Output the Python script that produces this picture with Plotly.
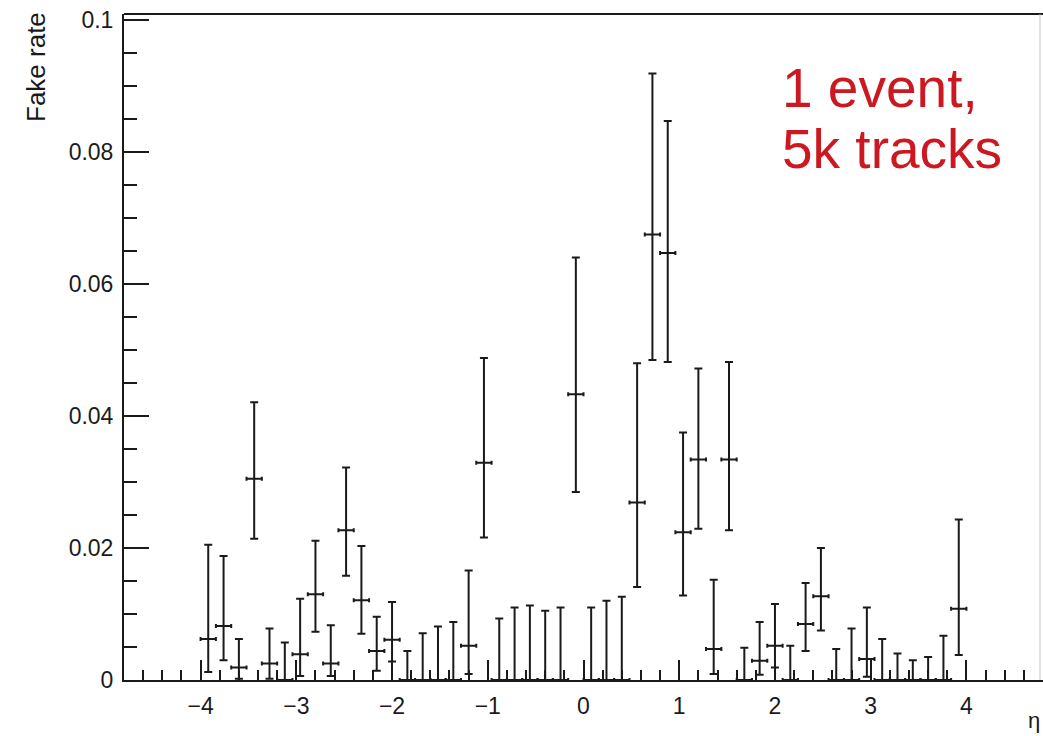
import plotly.graph_objects as go

# Fake-rate per eta bin (bin width 0.16), with asymmetric confidence interval
eta = [-3.92, -3.76, -3.60, -3.44, -3.28, -3.12, -2.96, -2.80, -2.64, -2.48,
       -2.32, -2.16, -2.00, -1.84, -1.68, -1.52, -1.36, -1.20, -1.04, -0.88,
       -0.72, -0.56, -0.40, -0.24, -0.08, 0.08, 0.24, 0.40, 0.56, 0.72,
       0.88, 1.04, 1.20, 1.36, 1.52, 1.68, 1.84, 2.00, 2.16, 2.32,
       2.48, 2.64, 2.80, 2.96, 3.12, 3.28, 3.44, 3.60, 3.76, 3.92]

fake_rate = [0.0062, 0.0082, 0.0019, 0.0305, 0.0025, 0.0, 0.0039, 0.0130, 0.0025, 0.0227,
             0.0121, 0.0044, 0.0061, 0.0, 0.0, 0.0, 0.0, 0.0052, 0.0329, 0.0,
             0.0, 0.0, 0.0, 0.0, 0.0433, 0.0, 0.0, 0.0, 0.0269, 0.0675,
             0.0647, 0.0224, 0.0334, 0.0047, 0.0334, 0.0, 0.0029, 0.0052, 0.0, 0.0085,
             0.0127, 0.0, 0.0, 0.0032, 0.0, 0.0, 0.0, 0.0, 0.0, 0.0108]

ci_high = [0.0205, 0.0188, 0.0062, 0.0421, 0.0078, 0.0057, 0.0123, 0.0211, 0.0083, 0.0322,
           0.0203, 0.0096, 0.0118, 0.0044, 0.0071, 0.0081, 0.0088, 0.0166, 0.0488, 0.0093,
           0.0110, 0.0113, 0.0105, 0.0110, 0.0640, 0.0110, 0.0120, 0.0126, 0.0480, 0.0919,
           0.0847, 0.0375, 0.0472, 0.0152, 0.0482, 0.0049, 0.0088, 0.0115, 0.0052, 0.0147,
           0.0200, 0.0047, 0.0078, 0.0110, 0.0062, 0.0040, 0.0030, 0.0035, 0.0067, 0.0243]

ci_low = [0.0012, 0.0030, 0.0002, 0.0214, 0.0002, 0.0, 0.0006, 0.0073, 0.0006, 0.0158,
          0.0070, 0.0014, 0.0028, 0.0, 0.0, 0.0, 0.0, 0.0009, 0.0216, 0.0,
          0.0, 0.0, 0.0, 0.0, 0.0285, 0.0, 0.0, 0.0, 0.0141, 0.0485,
          0.0482, 0.0128, 0.0229, 0.0009, 0.0227, 0.0, 0.0008, 0.0019, 0.0, 0.0044,
          0.0075, 0.0, 0.0, 0.0005, 0.0, 0.0, 0.0, 0.0, 0.0, 0.0038]

bin_half_width = 0.08

err_plus = [h - v for h, v in zip(ci_high, fake_rate)]
err_minus = [v - l for v, l in zip(fake_rate, ci_low)]

W, H = 1043, 736
L, R, T, B = 124, 0, 14, 56
PW, PH = W - L - R, H - T - B
FONT = "Liberation Sans, Arial, Helvetica, sans-serif"
INK = "#1a1a1a"


def px_x(px):
    return (px - L) / PW


def px_y(py):
    return 1 - (py - T) / PH


fig = go.Figure()
fig.add_trace(go.Scatter(
    x=eta, y=fake_rate, mode="markers",
    marker=dict(size=1, color="rgba(0,0,0,0)"),
    error_y=dict(type="data", symmetric=False, array=err_plus, arrayminus=err_minus,
                 color=INK, thickness=2, width=4),
    error_x=dict(type="constant", value=bin_half_width, color=INK, thickness=2, width=2),
    showlegend=False, hoverinfo="skip",
))

fig.update_layout(
    width=W, height=H,
    margin=dict(l=L, r=R, t=T, b=B),
    paper_bgcolor="white", plot_bgcolor="white",
    font=dict(family=FONT, size=23, color=INK),
    xaxis=dict(
        range=[-4.8, 4.8], tick0=0, dtick=1, showgrid=False, zeroline=False,
        showline=True, linecolor=INK, linewidth=2,
        ticks="inside", ticklen=20, tickwidth=2, tickcolor=INK,
        minor=dict(dtick=0.2, ticks="inside", ticklen=10, tickwidth=2, tickcolor=INK),
        tickfont=dict(size=23, family=FONT, color=INK),
        ticklabelstandoff=4,
    ),
    yaxis=dict(
        range=[0, 0.10091], tick0=0, dtick=0.02, showgrid=False, zeroline=False,
        showline=True, linecolor=INK, linewidth=2,
        ticks="inside", ticklen=25, tickwidth=2, tickcolor=INK,
        minor=dict(dtick=0.005, ticks="inside", ticklen=13, tickwidth=2, tickcolor=INK),
        tickfont=dict(size=23, family=FONT, color=INK),
        ticklabelstandoff=4,
    ),
)

# frame: top edge dark, faint right border
fig.add_shape(type="line", xref="paper", yref="paper", x0=0, x1=1, y0=1, y1=1,
              line=dict(color=INK, width=2))
fig.add_shape(type="line", xref="paper", yref="paper", x0=px_x(1040), x1=px_x(1040), y0=0, y1=1,
              line=dict(color="#c8c8c8", width=1))

# axis titles
fig.add_annotation(text="Fake rate", xref="paper", yref="paper",
                   x=px_x(36), y=px_y(10),
                   xanchor="center", yanchor="top", textangle=-90, showarrow=False,
                   font=dict(size=26, family=FONT, color=INK))
fig.add_annotation(text="η", xref="paper", yref="paper",
                   x=px_x(1042), y=px_y(720),
                   xanchor="right", yanchor="middle", showarrow=False,
                   font=dict(size=22, family=FONT, color=INK))

# sample description
RED = "#cc1820"
fig.add_annotation(text="1 event,", xref="paper", yref="paper",
                   x=px_x(780), y=px_y(55),
                   xanchor="left", yanchor="top", align="left", showarrow=False,
                   font=dict(size=55, family=FONT, color=RED))
fig.add_annotation(text="5k tracks", xref="paper", yref="paper",
                   x=px_x(780), y=px_y(116),
                   xanchor="left", yanchor="top", align="left", showarrow=False,
                   font=dict(size=55, family=FONT, color=RED))

fig.write_html("out.html")
